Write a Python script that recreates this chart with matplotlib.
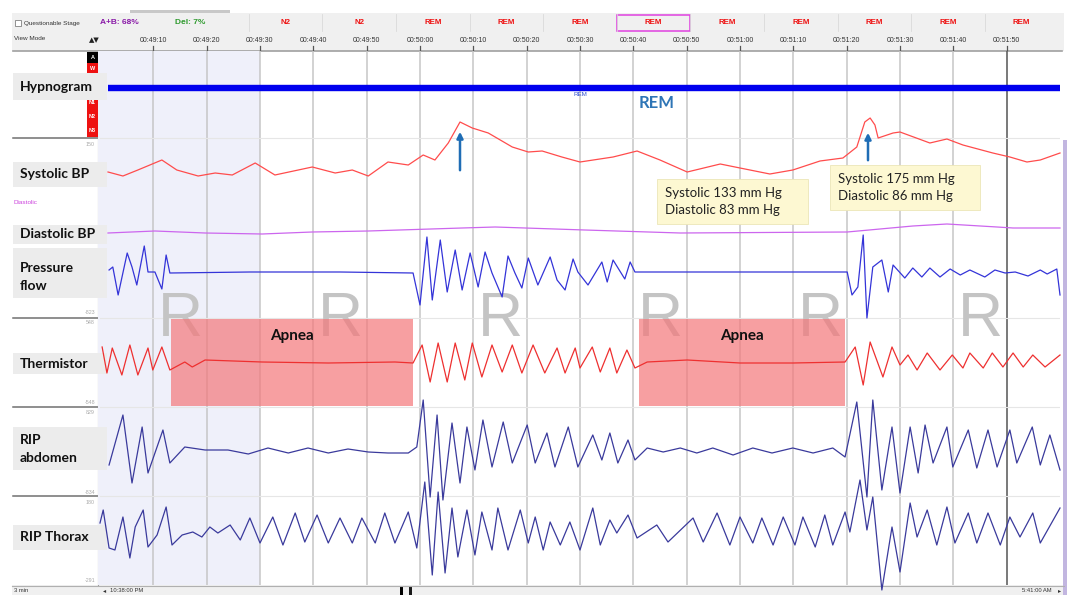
import matplotlib
matplotlib.use('Agg')
import matplotlib.pyplot as plt
from matplotlib.patches import Rectangle

# ---- data (time in s from 00:49:00) ----
tick_t = [10, 20, 30, 40, 50, 60, 70, 80, 90, 100, 110, 120, 130, 140, 150, 160, 170]
tick_labels = ['00:49:10', '00:49:20', '00:49:30', '00:49:40', '00:49:50', '00:50:00',
               '00:50:10', '00:50:20', '00:50:30', '00:50:40', '00:50:50', '00:51:00',
               '00:51:10', '00:51:20', '00:51:30', '00:51:40', '00:51:50']
header_stages = ['N2', 'N2', 'REM', 'REM', 'REM', 'REM', 'REM', 'REM', 'REM', 'REM', 'REM']
header_start, header_len, header_selected = 27.9, 13.8, 5
epoch_stages = ['R', 'R', 'R', 'R', 'R', 'R']
epoch_len = 30
hyp_levels = ['A', 'W', 'REM', 'N1', 'N2', 'N3']
hyp_t = [1.5, 180.0]
hyp_stage = 'REM'
apnea_events = [(13.3, 58.7), (101.1, 139.7)]

sys_t = [1.5, 4.3, 7.1, 11.6, 14.4, 18.4, 21.6, 24.8, 29.1, 32.8, 39.8, 44.1, 47.3, 50.3, 54.0,
         57.8, 60.6, 62.8, 65.3, 67.5, 69.8, 72.8, 77.3, 80.3, 82.9, 86.6, 90.0, 96.2, 100.7, 105.0,
         110.1, 116.3, 120.0, 125.6, 129.9, 135.0, 139.3, 141.9, 143.4, 144.4, 145.3, 145.9, 148.7,
         150.0, 155.6, 158.8, 161.8, 167.4, 170.6, 173.8, 176.3, 180.0]
sys_mmhg = [121, 117, 123, 133, 123, 117, 120, 118, 130, 118, 126, 120, 123, 117, 131,
            128, 138, 133, 150, 171, 165, 160, 146, 141, 142, 136, 131, 136, 142, 133,
            121, 129, 125, 119, 123, 132, 135, 146, 171, 175, 168, 155, 160,
            161, 150, 154, 148, 140, 136, 131, 133, 140]

dia_t = [1.5, 10.3, 19.7, 30.4, 39.8, 50.3, 67.9, 74.1, 90.9, 108.8, 140.1, 152.4, 158.8, 168.2, 171.2, 180.0]
dia_mmhg = [82, 84, 82, 81, 83, 84, 87, 88, 85, 82, 83, 89, 91, 88, 87, 87]

flow_t = [1.7, 2.4, 3.4, 5.1, 6.0, 6.9, 8.3, 9.0, 10.3, 11.6, 12.4, 13.1, 28.1, 45.0, 58.7,
          60.0, 61.3, 62.3, 63.8, 65.1, 66.6, 67.9, 69.4, 70.9, 72.2, 73.5, 75.4, 76.5, 77.8, 79.1,
          80.3, 82.1, 84.4, 85.7, 87.2, 88.7, 89.6, 91.5, 94.1, 95.1, 96.2, 98.4, 99.4, 100.3, 120.0,
          140.1, 141.0, 142.1, 143.1, 143.8, 144.9, 146.6, 147.8, 148.7, 150.9, 152.4, 154.1, 155.6,
          157.5, 159.4, 161.3, 163.1, 165.9, 167.8, 169.7, 171.6, 174.0, 176.3, 177.6, 179.4, 180.0]
flow_v = [2, 5, -23, 19, 5, -13, 26, 0, 0, -17, 17, -1, 0, 0, -1,
          -33, 35, -28, 32, -20, 22, -18, 19, -15, 20, -1, -25, 16, -1, -16,
          14, -13, 15, -8, -18, 13, 0, -13, 10, -10, 12, -7, 10, 0, 0,
          0, -23, -15, 37, -46, 5, 12, -20, 7, -6, 4, -5, 4,
          -5, 3, -3, 2, -5, 2, -1, 0, -4, 2, -2, 3, -23]

therm_t = [0.4, 1.3, 2.3, 4.1, 5.6, 7.1, 9.0, 9.9, 11.6, 13.1, 15.9, 17.3, 19.7, 30.4, 42.8,
           55.3, 58.7, 60.4, 61.9, 63.4, 65.1, 66.6, 68.4, 69.8, 71.6, 73.5, 75.4, 77.3, 79.1, 81.2,
           83.4, 85.7, 87.2, 89.1, 90.0, 92.3, 93.8, 95.6, 96.9, 98.8, 100.3, 102.6, 110.1, 120.0,
           129.9, 139.7, 141.6, 143.1, 144.4, 146.8, 148.5, 150.0, 151.5, 153.2, 155.1, 157.5, 159.8,
           161.8, 163.1, 165.6, 167.3, 169.3, 171.2, 173.1, 174.9, 177.2, 180.0]
therm_v = [15, -11, 14, -13, 17, -13, 14, -8, 15, -8, 0, -5, 2, 0, -1,
           0, -1, 17, -20, 19, -20, 19, -18, 19, -15, 17, -10, 17, -11, 17,
           -11, 14, -11, 14, -6, 15, -10, 14, -11, 12, -6, 0, 2, -1,
           -1, 0, 15, -23, 20, -15, 15, -3, 7, -8, 9, -8, 7,
           -6, 9, -6, 9, -5, 9, -5, 7, -5, 7]

abd_t = [1.7, 4.3, 6.0, 7.9, 9.0, 11.8, 13.1, 15.9, 19.7, 24.0, 27.8, 31.5, 35.3, 39.0, 42.8,
         46.5, 50.3, 54.0, 57.8, 59.4, 60.6, 61.9, 63.2, 64.3, 66.0, 67.5, 68.8, 70.3, 71.8, 73.5,
         75.6, 77.3, 80.1, 81.6, 83.8, 85.3, 87.8, 89.6, 92.4, 94.1, 95.6, 97.1, 99.0, 100.3, 102.6,
         105.6, 108.8, 111.9, 114.9, 118.7, 122.4, 126.0, 129.9, 133.7, 137.4, 139.7, 141.9, 143.8,
         144.9, 146.6, 148.5, 150.0, 151.9, 153.4, 154.7, 156.2, 158.8, 159.9, 162.8, 164.4, 166.5,
         168.2, 170.6, 171.9, 174.8, 176.3, 178.1, 180.0]
abd_v = [-15, 35, -33, 23, -23, 20, -13, 3, 0, 0, -4, 2, -3, 2, -3,
         1, -2, -3, -3, 3, 50, -47, 35, -50, 27, -33, 23, -20, 30, -17,
         28, -13, 25, -13, 17, -17, 23, -17, 15, -10, 17, -13, 10, -10, 2,
         -2, 2, -3, 2, -5, 2, -3, 2, -3, 2, -7, 48, -47,
         50, -40, 23, -43, 23, -23, 25, -13, 23, -17, 20, -18, 20,
         -17, 20, -13, 23, -15, 15, -20]

tho_t = [0.0, 0.6, 1.7, 2.8, 4.3, 5.6, 6.6, 8.1, 9.0, 10.7, 12.4, 13.5, 15.4, 17.4, 19.1,
         20.6, 22.1, 24.4, 26.3, 28.1, 30.0, 32.4, 34.3, 36.6, 38.4, 40.7, 42.8, 45.0, 47.3, 49.1,
         51.6, 53.4, 55.3, 57.8, 59.4, 60.9, 62.3, 63.4, 64.7, 66.0, 67.1, 68.8, 70.3, 71.6, 73.5,
         74.6, 76.5, 78.8, 80.3, 81.6, 83.1, 84.4, 86.3, 88.1, 90.0, 92.4, 93.8, 95.6, 96.9, 99.0,
         100.7, 104.4, 106.5, 111.2, 113.1, 115.7, 118.1, 120.0, 122.4, 124.1, 126.2, 128.1, 130.3,
         131.8, 134.1, 135.9, 137.4, 139.7, 140.6, 142.5, 143.8, 144.9, 146.6, 148.5, 150.0, 151.9,
         153.2, 155.1, 156.9, 158.8, 160.3, 162.8, 164.4, 166.5, 168.8, 170.6, 172.5, 174.9, 176.3, 180.0]
tho_v = [12, 25, -13, -15, 18, -23, 8, 25, -12, 0, 28, -10, 0, 3, -2,
         8, 2, 10, -5, 17, -8, 18, -10, 22, -7, 20, -8, 17, -8, 17,
         -8, 22, -8, 23, -13, 53, -40, 43, -38, 27, -22, 25, -20, 23, -15,
         27, -15, 25, -8, 18, -15, 13, -10, 13, -15, 27, -10, 15, 2, 20,
         -3, 10, -7, 17, -7, 22, -10, 18, -8, 17, -10, 18, -10,
         18, -12, 20, -10, 23, 3, 55, 5, 38, -55, 8, -37, 32,
         -2, 25, -10, 28, -8, 22, -8, 22, -10, 18, -2, 22, -8, 27]

channel_names = ['Hypnogram', 'Systolic BP', 'Diastolic BP', 'Pressure\nflow',
                 'Thermistor', 'RIP\nabdomen', 'RIP Thorax']
scale_labels = ['150', '-823', '548', '-548', '829', '-834', '180', '-291']
notes = ['Systolic 133 mm Hg\nDiastolic 83 mm Hg', 'Systolic 175 mm Hg\nDiastolic 86 mm Hg']

# ---- figure, laid out in screen pixels ----
W, H = 1072, 595
fig = plt.figure(figsize=(W / 100, H / 100), dpi=100)
LAB = 'Lato'
SMALL = 'Liberation Sans'


def px_axes(x0, y0, x1, y1, z=1):
    ax = fig.add_axes([x0 / W, 1 - y1 / H, (x1 - x0) / W, (y1 - y0) / H])
    ax.set_zorder(z)
    ax.patch.set_alpha(0)
    ax.axis('off')
    return ax


deco = px_axes(0, 0, W, H, z=0)
deco.set_xlim(0, W)
deco.set_ylim(H, 0)

# header strip
deco.add_patch(Rectangle((12, 13), 1052, 38, color='#f0f0f0', lw=0))
deco.add_patch(Rectangle((130, 10), 100, 3, color='#c8c8c8', lw=0))
deco.add_patch(Rectangle((15, 19.5), 6, 6, facecolor='white', edgecolor='#808080', lw=0.6))
deco.text(24, 23, 'Questionable Stage', fontsize=4.6, family=SMALL, va='center', color='#333333')
deco.text(100, 23, 'A+B: 68%', fontsize=6, family=SMALL, weight='bold', va='center', color='#8a1aa8')
deco.text(175, 23, 'Del: 7%', fontsize=6, family=SMALL, weight='bold', va='center', color='#2e9a2e')
deco.text(14, 39, 'View Mode', fontsize=4.6, family=SMALL, va='center', color='#333333')
deco.text(94, 40, '▲▼', fontsize=5, family='DejaVu Sans', ha='center', va='center', color='#222222')
deco.plot([13, 1062], [51, 51], color='#a0a0a0', lw=1.2)

# left label column
for y in [138, 318, 407, 496]:
    deco.plot([13, 98], [y, y], color='#707070', lw=1.1)
deco.plot([98, 98], [138, 585], color='#a0a0a0', lw=0.8)
deco.plot([99, 99], [248, 256], color='#e080e0', lw=0.8)
deco.plot([99, 99], [300, 318], color='#e080e0', lw=0.8)

# stage column beside the hypnogram
deco.add_patch(Rectangle((87, 52), 11, 11, color='black', lw=0))
deco.add_patch(Rectangle((87, 63), 11, 12, color='#ee1111', lw=0))
deco.add_patch(Rectangle((87, 96), 11, 41, color='#ee1111', lw=0))
for lab, y in zip(['A', 'W', 'N1', 'N2', 'N3'], [57.5, 69, 102, 116, 130]):
    deco.text(92.5, y, lab, fontsize=4, family=SMALL, weight='bold', color='white',
              ha='center', va='center')

for lab, y in zip(scale_labels, [145, 313, 323, 403, 413, 492, 502, 581]):
    deco.text(95, y, lab, fontsize=3.8, family=SMALL, color='#a8a8a8', ha='right', va='center')
deco.text(14, 202, 'Diastolic', fontsize=4.6, family=SMALL, color='#cc44dd', va='center')

# bottom bar and right scroll strip
deco.add_patch(Rectangle((12, 585), 1052, 10, color='#f0f0f0', lw=0))
deco.plot([12, 1064], [585.5, 585.5], color='#b0b0b0', lw=0.8)
deco.text(14, 591, '3 min', fontsize=4.2, family=SMALL, va='center', color='#333333')
deco.text(103, 591, '◂', fontsize=4.5, family='DejaVu Sans', va='center', color='#333333')
deco.text(110, 591, '10:38:00 PM', fontsize=4.2, family=SMALL, va='center', color='#333333')
deco.text(1052, 591, '5:41:00 AM', fontsize=4.2, family=SMALL, va='center', ha='right', color='#333333')
deco.text(1058, 591, '▸', fontsize=4.5, family='DejaVu Sans', va='center', color='#333333')
deco.add_patch(Rectangle((400, 586), 3, 9, color='black', lw=0))
deco.add_patch(Rectangle((409, 586), 3, 9, color='#1a1a1a', lw=0))
deco.add_patch(Rectangle((1062.5, 140), 4.5, 455, color='#c2b6e0', lw=0))

# ---- header axis (same time scale as the traces) ----
hd = px_axes(100, 13, 1060, 51, z=1)
hd.set_xlim(0, 180)
hd.set_ylim(51, 13)
for k, st in enumerate(header_stages):
    t0 = header_start + k * header_len
    hd.plot([t0, t0], [14, 31], color='#dadada', lw=0.6)
    hd.text(t0 + header_len / 2, 23, st, fontsize=5.7, family=SMALL, weight='bold',
            color='#ee1111', ha='center', va='center')
sel0 = header_start + header_selected * header_len
hd.add_patch(Rectangle((sel0, 14.5), header_len, 16.5, fill=False, edgecolor='#e040e0', lw=1.1))
for t, lab in zip(tick_t, tick_labels):
    hd.text(t, 40.5, lab, fontsize=5, family=SMALL, color='#333333', ha='center', va='center')
    hd.plot([t, t], [45.5, 51], color='#555555', lw=0.9)

# ---- background grid of the trace area ----
g = px_axes(100, 51, 1060, 585, z=1)
g.set_xlim(0, 180)
g.set_ylim(585, 51)
g.axvspan(0, 30, color='#eff0fa', lw=0)
g.axvspan(-0.4, 0, color='#eff0fa', lw=0, clip_on=False)
for t in tick_t:
    g.axvline(t, color='#555555' if t == 170 else '#c6c6c6', lw=1.1)
for y in [138, 318, 407, 496]:
    g.axhline(y, color='#e6e6e6', lw=0.8)
for k, st in enumerate(epoch_stages):
    g.text(k * epoch_len + epoch_len / 2, 320, st, fontsize=45, family=SMALL,
           color='#c4c4c4', ha='center', va='center')

# channel name boxes reach a little into the trace area
lab_ax = px_axes(0, 0, W, H, z=2)
lab_ax.set_xlim(0, W)
lab_ax.set_ylim(H, 0)
label_boxes = [(73, 100, 87), (162, 187, 174), (225, 244, 234), (248, 298, 277),
               (353, 374, 364), (427, 470, 449), (525, 550, 537)]
for name, (y0, y1, yc) in zip(channel_names, label_boxes):
    lab_ax.add_patch(Rectangle((13, y0), 94, y1 - y0, color='#ececec', lw=0))
    lab_ax.text(20, yc, name, fontsize=10, family=LAB, weight='bold', color='#111111',
                va='center', linespacing=1.65)

# ---- channels ----
LW = 0.9
hyp = px_axes(100, 48, 1060, 138, z=3)
hyp.set_xlim(0, 180)
hyp.set_ylim(5.4, -0.7)
hyp.hlines(hyp_levels.index(hyp_stage), hyp_t[0], hyp_t[1], color='#0000ee', lw=4.6)

sysax = px_axes(100, 108, 1060, 185, z=3)
sysax.set_xlim(0, 180)
sysax.set_ylim(108, 185)
sysax.plot(sys_t, sys_mmhg, color='#ff4c4c', lw=LW, clip_on=False)
for t, y0, y1 in [(67.5, 120, 164), (144.0, 130, 163)]:
    sysax.annotate('', xy=(t, y1), xytext=(t, y0),
                   arrowprops=dict(arrowstyle='-|>', color='#1f6db5', lw=1.8, mutation_scale=9))

dia = px_axes(100, 215, 1060, 250, z=3)
dia.set_xlim(0, 180)
dia.set_ylim(65, 100)
dia.plot(dia_t, dia_mmhg, color='#cc66ee', lw=LW, clip_on=False)

flow = px_axes(100, 230, 1060, 318, z=3)
flow.set_xlim(0, 180)
flow.set_ylim(-46, 42)
flow.plot(flow_t, flow_v, color='#3434d8', lw=LW, clip_on=False)

therm = px_axes(100, 318, 1060, 407, z=3)
therm.set_xlim(0, 180)
therm.set_ylim(-45, 44)
for a0, a1 in apnea_events:
    therm.add_patch(Rectangle((a0, -44), a1 - a0, 87, facecolor='#f4777a', alpha=0.7, lw=0))
    therm.text((a0 + a1) / 2, 26, 'Apnea', fontsize=11, family=LAB, weight='bold',
               color='#111111', ha='center', va='center')
therm.plot(therm_t, therm_v, color='#ee3030', lw=LW, clip_on=False)

abd = px_axes(100, 407, 1060, 496, z=3)
abd.set_xlim(0, 180)
abd.set_ylim(-46, 43)
abd.plot(abd_t, abd_v, color='#3a3a9c', lw=LW, clip_on=False)

tho = px_axes(100, 496, 1060, 585, z=3)
tho.set_xlim(0, 180)
tho.set_ylim(-50, 39)
tho.plot(tho_t, tho_v, color='#3a3a9c', lw=LW, clip_on=False)

# ---- callouts on top ----
top = px_axes(0, 0, W, H, z=5)
top.set_xlim(0, W)
top.set_ylim(H, 0)
top.text(657, 103, 'REM', fontsize=12, family=LAB, weight='bold', color='#2e75b6',
         ha='center', va='center')
top.text(580, 94, 'REM', fontsize=4.5, family=SMALL, color='#3050d0', ha='center', va='center')
for (x0, y0, w, h), note in zip([(657, 179, 151, 45), (830, 165, 150, 45)], notes):
    top.add_patch(Rectangle((x0, y0), w, h, facecolor='#fdf8d2', edgecolor='#ece6b8', lw=0.6))
    top.text(x0 + 8, y0 + h / 2, note, fontsize=9.5, family=LAB, color='#222222',
             va='center', linespacing=1.45)

fig.savefig('out.png', dpi=100, facecolor='white')
